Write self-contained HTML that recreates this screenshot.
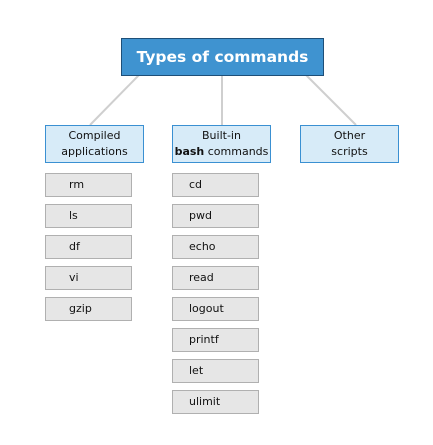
<!DOCTYPE html>
<html><head><meta charset="utf-8"><style>
body{margin:0;width:433px;height:445px;background:#fff;position:relative;font-family:"DejaVu Sans","Liberation Sans",sans-serif;overflow:hidden}
.b{position:absolute;box-sizing:border-box}
.t{left:121px;top:38px;width:203px;height:38px;background:#3f93d0;border:1px solid #1e4f78;color:#fff;font-weight:bold;font-size:15.5px;text-align:center;line-height:36px}
.c{top:125px;width:99px;height:38px;background:#d7ebf8;border:1px solid #3a90d2;font-size:11px;text-align:center;line-height:16px;padding-top:2px;color:#111}
.i{width:87px;height:24px;background:#e6e6e6;border:1px solid #b0b0b0;font-size:11px;line-height:22px;color:#111}
.l{left:45px;padding-left:23px}
.m{left:172px;padding-left:16px}
</style></head><body>
<svg width="433" height="445" style="position:absolute;left:0;top:0">
<g stroke="#cfcfcf" stroke-width="2">
<line x1="139" y1="75" x2="90" y2="125"/>
<line x1="222" y1="75" x2="222" y2="125"/>
<line x1="306" y1="75" x2="356" y2="125"/>
</g></svg>
<div class="b t">Types of commands</div>
<div class="b c" style="left:45px">Compiled<br>applications</div>
<div class="b c" style="left:172px">Built-in<br><b>bash</b> commands</div>
<div class="b c" style="left:300px">Other<br>scripts</div>
<div class="b i l" style="top:173px">rm</div>
<div class="b i l" style="top:204px">ls</div>
<div class="b i l" style="top:235px">df</div>
<div class="b i l" style="top:266px">vi</div>
<div class="b i l" style="top:297px">gzip</div>
<div class="b i m" style="top:173px">cd</div>
<div class="b i m" style="top:204px">pwd</div>
<div class="b i m" style="top:235px">echo</div>
<div class="b i m" style="top:266px">read</div>
<div class="b i m" style="top:297px">logout</div>
<div class="b i m" style="top:328px">printf</div>
<div class="b i m" style="top:359px">let</div>
<div class="b i m" style="top:390px">ulimit</div>
</body></html>
